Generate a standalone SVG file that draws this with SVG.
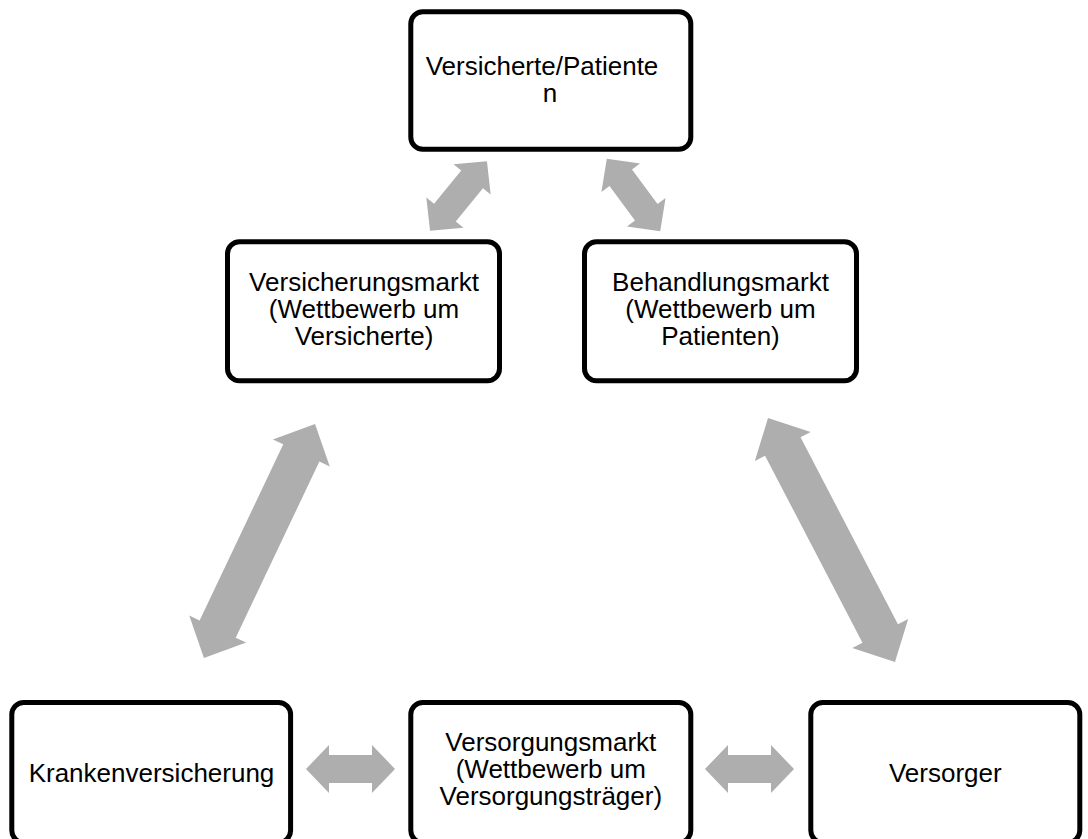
<svg xmlns="http://www.w3.org/2000/svg" width="1088" height="839" viewBox="0 0 1088 839">
  <style>
    .box { fill: #ffffff; stroke: #000000; stroke-width: 5; }
    .lbl { font-family: "Liberation Sans", Arial, sans-serif; font-size: 26px; fill: #000000; text-anchor: middle; }
    .arrow { fill: #aeaeae; stroke: none; }
  </style>
  <rect x="0" y="0" width="1088" height="839" fill="#ffffff"/>

  <!-- connectors: grey block double arrows -->
  <g id="connectors">
    <!-- short arrows (length ~90) -->
    <polygon class="arrow" transform="translate(458.5,196) rotate(-50.8)" points="-45,0 -21.5,-24 -21.5,-14 21.5,-14 21.5,-24 45,0 21.5,24 21.5,14 -21.5,14 -21.5,24"/>
    <polygon class="arrow" transform="translate(633.5,195) rotate(53.6)" points="-45,0 -21.5,-24 -21.5,-14 21.5,-14 21.5,-24 45,0 21.5,24 21.5,14 -21.5,14 -21.5,24"/>
    <polygon class="arrow" transform="translate(350.5,769)" points="-44.5,0 -21.5,-24 -21.5,-14 21.5,-14 21.5,-24 44.5,0 21.5,24 21.5,14 -21.5,14 -21.5,24"/>
    <polygon class="arrow" transform="translate(749.5,769)" points="-44.5,0 -21.5,-24 -21.5,-14 21.5,-14 21.5,-24 44.5,0 21.5,24 21.5,14 -21.5,14 -21.5,24"/>
    <!-- long diagonal arrows -->
    <polygon class="arrow" transform="translate(259.5,541) rotate(-64.6)" points="-129.5,0 -97.5,-31.5 -97.5,-20 97.5,-20 97.5,-31.5 129.5,0 97.5,31.5 97.5,20 -97.5,20 -97.5,31.5"/>
    <polygon class="arrow" transform="translate(831.5,540) rotate(62.5)" points="-137.5,0 -105.5,-31.5 -105.5,-20 105.5,-20 105.5,-31.5 137.5,0 105.5,31.5 105.5,20 -105.5,20 -105.5,31.5"/>
  </g>

  <g id="node-versicherte">
    <rect class="box" x="410.8" y="11.8" width="280" height="137.4" rx="12"/>
    <text class="lbl" x="542" y="75">Versicherte/Patiente</text>
    <text class="lbl" x="550" y="102">n</text>
  </g>

  <g id="node-versicherungsmarkt">
    <rect class="box" x="227.5" y="241.8" width="272" height="139" rx="12"/>
    <text class="lbl" x="364" y="291">Versicherungsmarkt</text>
    <text class="lbl" x="364" y="318">(Wettbewerb um</text>
    <text class="lbl" x="364" y="345">Versicherte)</text>
  </g>

  <g id="node-behandlungsmarkt">
    <rect class="box" x="584.5" y="241.8" width="272" height="139" rx="12"/>
    <text class="lbl" x="720.5" y="291">Behandlungsmarkt</text>
    <text class="lbl" x="720.5" y="318">(Wettbewerb um</text>
    <text class="lbl" x="720.5" y="345">Patienten)</text>
  </g>

  <g id="node-krankenversicherung">
    <rect class="box" x="11.8" y="702.5" width="278.8" height="140" rx="12"/>
    <text class="lbl" x="151.5" y="782">Krankenversicherung</text>
  </g>

  <g id="node-versorgungsmarkt">
    <rect class="box" x="410.8" y="702.5" width="280" height="140" rx="12"/>
    <text class="lbl" x="550.8" y="751">Versorgungsmarkt</text>
    <text class="lbl" x="550.8" y="778">(Wettbewerb um</text>
    <text class="lbl" x="550.8" y="805">Versorgungsträger)</text>
  </g>

  <g id="node-versorger">
    <rect class="box" x="810.8" y="702.5" width="269" height="140" rx="12"/>
    <text class="lbl" x="945.3" y="782">Versorger</text>
  </g>
</svg>
